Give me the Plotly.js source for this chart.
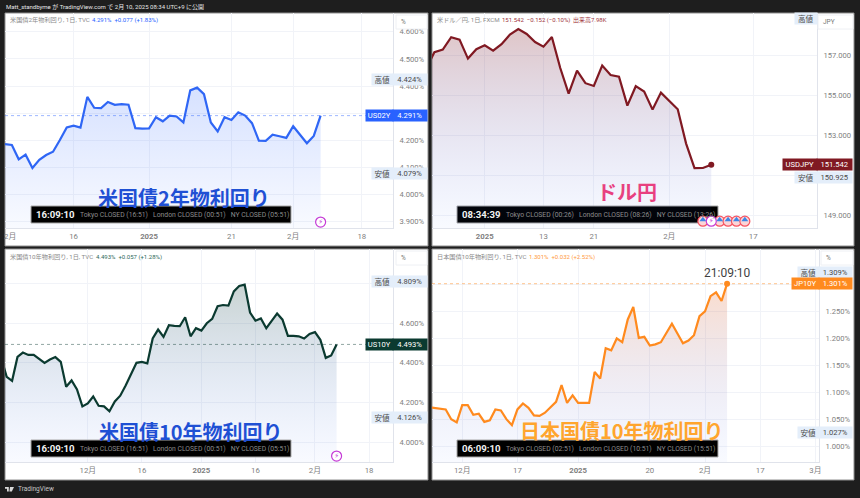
<!DOCTYPE html>
<html><head><meta charset="utf-8">
<script src="https://cdn.plot.ly/plotly-3.0.1.min.js"></script>
<style>html,body{margin:0;padding:0;background:#1e1e1e}#c{width:860px;height:498px}</style>
</head><body><div id="c"></div>
<script>
// ---- data ----
const us2y = [4.186,4.183,4.130,4.147,4.098,4.128,4.146,4.158,4.201,4.247,4.254,4.247,4.360,4.320,4.319,4.341,4.331,4.333,4.331,4.245,4.243,4.244,4.285,4.270,4.291,4.288,4.266,4.384,4.394,4.370,4.266,4.233,4.285,4.275,4.303,4.291,4.263,4.199,4.198,4.221,4.215,4.209,4.252,4.220,4.189,4.216,4.291];
const usdjpy = [156.33,157.17,157.30,157.92,157.80,156.85,157.32,157.52,157.25,157.57,158.05,158.33,158.08,157.68,157.45,157.93,156.38,155.10,156.25,155.62,155.48,156.50,156.03,155.95,154.50,155.47,155.20,154.30,155.15,154.72,154.32,152.60,151.37,151.38,151.542];
const us10y = [4.425,4.329,4.309,4.430,4.452,4.440,4.440,4.420,4.400,4.417,4.429,4.405,4.279,4.311,4.266,4.180,4.195,4.230,4.183,4.180,4.155,4.205,4.234,4.286,4.346,4.400,4.405,4.397,4.523,4.568,4.531,4.590,4.587,4.585,4.630,4.534,4.575,4.563,4.600,4.622,4.686,4.692,4.689,4.761,4.788,4.795,4.654,4.613,4.624,4.575,4.612,4.649,4.618,4.536,4.536,4.534,4.523,4.546,4.555,4.516,4.425,4.437,4.493];
const jp10y = [1.073,1.072,1.070,1.069,1.051,1.045,1.077,1.077,1.059,1.061,1.046,1.049,1.069,1.067,1.051,1.040,1.069,1.080,1.072,1.058,1.057,1.063,1.073,1.083,1.114,1.081,1.095,1.081,1.081,1.081,1.138,1.126,1.182,1.178,1.200,1.193,1.235,1.258,1.201,1.203,1.187,1.189,1.193,1.209,1.227,1.209,1.191,1.196,1.206,1.241,1.250,1.278,1.285,1.269,1.301];

const us2yXTicks = [10,21,33,42,52],  us2yXLabels = ['16','<b>2025</b>','21','2月','18'];
const jpyXTicks  = [7,14,20,29,39],   jpyXLabels  = ['<b>2025</b>','13','21','2月','17'];
const us10yXTicks= [16,26,37,47,58,68], us10yXLabels= ['12月','16','<b>2025</b>','16','2月','18'];
const jp10yXTicks= [6,16,27,40,50,60,70], jp10yXLabels= ['12月','17','<b>2025</b>','20','2月','17','3月'];

const us2yYTicks = [3.9,4.0,4.1,4.2,4.3,4.4,4.5,4.6],  us2yHidden=[4.3];
const jpyYTicks  = [149,151,153,155,157],               jpyHidden=[151];
const us10yYTicks= [4.0,4.2,4.4,4.6,4.8],               us10yHidden=[4.8];
const jp10yYTicks= [1.0,1.05,1.1,1.15,1.2,1.25,1.3],    jp10yHidden=[1.3];

// ---- page geometry in pixels ----
const W=860,H=498, fx=p=>p/W, fy=p=>1-p/H;
const GRID='#f1f3f8', AXIS='#e0e3eb', TICK='#7f7f7f', SANS='Roboto, "Noto Sans CJK JP", sans-serif', CJK='"Noto Sans CJK JP", sans-serif';

const panels=[
 {id:'',  L:5,  R:428, T:13, B:246, axX:393, plotB:228, y:us2y, xr:[0,56.55], yr:[3.877,4.669], color:'#2f66f5', top:'rgba(41,98,255,0.19)', xT:us2yXTicks,xL:us2yXLabels,yT:us2yYTicks,yH:us2yHidden,dec:3,unit:'%',
  head:'米国債2年物利回り, 1日, TVC', headVal:'4.291%  +0.077 (+1.83%)', headCol:'#2962ff', headX:9, valX:91,
  sym:'US02Y', tagCol:'#2962ff', tagL:366, last:4.291, hi:4.424, lo:4.079, tagTxt:v=>v.toFixed(3)+'%', dotted:'rgba(41,98,255,0.45)',
  title:'米国債2年物利回り', titleCol:'#1f50d4', titleX:184, titleY:197, bar:[31,291,206,223], clock:'16:09:10', markets:'Tokyo CLOSED (16:51)   London CLOSED (00:51)   NY CLOSED (05:51)', boxL:396, boxR:427, boxT:15, boxTxt:'%', hiLabelL:372, loLabelL:372},
 {id:'2', L:432,R:854, T:13, B:246, axX:817, plotB:228, y:usdjpy, xr:[0.715,46.6], yr:[148.38,159.13], color:'#801922', top:'rgba(128,25,34,0.25)', xT:jpyXTicks,xL:jpyXLabels,yT:jpyYTicks,yH:jpyHidden,dec:3,unit:'',
  head:'米ドル／円, 1日, FXCM', headVal:'151.542  −0.152 (−0.10%)', headCol:'#a0343c', headX:436, valX:501, extra:'出来高7.98K', extraX:572,
  sym:'USDJPY', tagCol:'#801922', tagL:783, last:151.542, hi:158.83, lo:150.925, tagTxt:v=>v.toFixed(3), hiHide:true,
  title:'ドル円', titleCol:'#e8407f', titleX:627, titleY:191, bar:[457,718,206,223], clock:'08:34:39', markets:'Tokyo CLOSED (00:26)   London CLOSED (08:26)   NY CLOSED (13:26)', boxL:818, boxR:853, boxT:15, boxTxt:'JPY', hiLabelL:795, loLabelL:795, barBelow:true},
 {id:'3', L:5,  R:428, T:249,B:480, axX:393, plotB:462, y:us10y, xr:[0.69,72.43], yr:[3.899,4.975], color:'#0b3a30', top:'rgba(11,58,48,0.22)', xT:us10yXTicks,xL:us10yXLabels,yT:us10yYTicks,yH:us10yHidden,dec:3,unit:'%',
  head:'米国債10年物利回り, 1日, TVC', headVal:'4.493%  +0.057 (+1.28%)', headCol:'#2f6a5c', headX:9, valX:95,
  sym:'US10Y', tagCol:'#0b3a30', tagL:366, last:4.493, hi:4.809, lo:4.126, tagTxt:v=>v.toFixed(3)+'%', dotted:'rgba(11,58,48,0.45)',
  title:'米国債10年物利回り', titleCol:'#1f50d4', titleX:191, titleY:431, bar:[31,291,440,457], clock:'16:09:10', markets:'Tokyo CLOSED (16:51)   London CLOSED (00:51)   NY CLOSED (05:51)', boxL:396, boxR:427, boxT:251, boxTxt:'%', hiLabelL:372, loLabelL:372},
 {id:'4', L:432,R:854, T:249,B:480, axX:819, plotB:462, y:jp10y, xr:[0.517,70.66], yr:[0.972,1.365], color:'#ff8a1e', top:'rgba(240,110,40,0.24)', xT:jp10yXTicks,xL:jp10yXLabels,yT:jp10yYTicks,yH:jp10yHidden,dec:3,unit:'%',
  head:'日本国債10年物利回り, 1日, TVC', headVal:'1.301%  +0.032 (+2.52%)', headCol:'#ff9a3c', headX:436, valX:528,
  sym:'JP10Y', tagCol:'#ff8a1e', tagL:792, last:1.301, hi:1.309, lo:1.027, hiShift:7, tagTxt:v=>v.toFixed(3)+'%', dotted:'rgba(255,138,30,0.5)',
  title:'日本国債10年物利回り', titleCol:'#ffa52e', titleX:622, titleY:430, bar:[457,718,440,457], clock:'06:09:10', markets:'Tokyo CLOSED (02:51)   London CLOSED (10:51)   NY CLOSED (15:51)', boxL:821, boxR:853, boxT:251, boxTxt:'%', hiLabelL:798, loLabelL:798},
];

const traces=[], shapes=[], ann=[], layout={};
const txt=(text,px,py,size,color,extra={})=>ann.push(Object.assign({xref:'paper',yref:'paper',x:fx(px),y:fy(py),text,showarrow:false,xanchor:'left',yanchor:'middle',font:{size,color,family:SANS},borderpad:0},extra));
const rect=(l,r,t,b,fill,line,layer)=>shapes.push({type:'rect',xref:'paper',yref:'paper',x0:fx(l),x1:fx(r),y0:fy(t),y1:fy(b),fillcolor:fill,line:line?{color:line,width:1}:{width:0},layer:layer||'below'});

panels.forEach(p=>{
  const xa='xaxis'+p.id, ya='yaxis'+p.id, xs='x'+p.id, ys='y'+p.id;
  rect(p.L,p.R,p.T,p.B,'#ffffff','#8f8f8f');
  const xs_=p.y.map((_,i)=>i);
  const lastI=p.y.length-1;
  traces.push({type:'scatter',mode:'lines',x:xs_,y:p.y,xaxis:xs,yaxis:ys,line:{color:p.color,width:2.2,shape:'linear'},fill:'tozeroy',
    fillgradient:{type:'vertical',start:Math.max(...p.y),stop:p.yr[0],colorscale:[[0,p.top],[1,'rgba(41,98,255,0.03)']]},hoverinfo:'skip',showlegend:false});
  layout[xa]={domain:[fx(p.L),fx(p.axX)],range:p.xr,anchor:ys,tickmode:'array',tickvals:p.xT,ticktext:p.xL,showgrid:true,gridcolor:GRID,gridwidth:1,zeroline:false,showline:true,linecolor:AXIS,linewidth:1,ticks:'outside',ticklen:1,tickcolor:'rgba(0,0,0,0)',tickfont:{size:7.8,color:TICK,family:SANS},fixedrange:true};
  layout[ya]={domain:[fy(p.plotB),fy(p.T)],range:p.yr,anchor:xs,side:'right',tickmode:'array',tickvals:p.yT,ticktext:p.yT.map(v=>p.yH.includes(v)?' ':v.toFixed(p.dec)+p.unit),showgrid:true,gridcolor:GRID,gridwidth:1,zeroline:false,showline:true,linecolor:AXIS,linewidth:1,ticks:'outside',ticklen:4,tickcolor:'rgba(0,0,0,0)',tickfont:{size:7.6,color:TICK,family:SANS},fixedrange:true};

  // dotted last-price line
  if(p.dotted) shapes.push({type:'line',xref:'paper',yref:ys,x0:fx(p.L),x1:fx(p.tagL),y0:p.y[lastI],y1:p.y[lastI],line:{color:p.dotted,width:1,dash:'dot'},layer:'above'});

  // legend text
  txt(p.head,p.headX,p.T+7.5,6.2,'#8a8a8a');
  txt(p.headVal,p.valX,p.T+7.5,6,p.headCol);
  if(p.extra) txt(p.extra,p.extraX,p.T+7.5,6,'#a0343c');

  // unit box
  rect(p.boxL,p.boxR,p.boxT,p.boxT+14,'#ffffff','#eef0f4','above');
  txt(p.boxTxt,p.boxL+4,p.boxT+7,6.5,'#777');

  // high / low tags
  const tag=(label,val,l,shift,bg,fg,valTxt,hide)=>{
    const mk=(t,a,b,fw)=>ann.push({xref:'paper',yref:ys,x:fx((a+b)/2),y:val,yshift:shift||0,text:t,showarrow:false,xanchor:'center',yanchor:'middle',width:b-a,height:11,bgcolor:bg,font:{size:fw,color:fg,family:SANS},borderpad:0});
    mk(label,l,p.axX-0.5,7.6);
    if(!hide) mk(valTxt,p.axX+0.5,p.R-(p.id==''||p.id=='3'?1:2),7.6);
  };
  tag('高値',p.hi,p.hiLabelL,p.hiShift,'#e4eefa','#4a4a4a',p.tagTxt(p.hi),p.hiHide);
  tag('安値',p.lo,p.loLabelL,0,'#e4eefa','#4a4a4a',p.tagTxt(p.lo));
  tag(p.sym,p.last,p.tagL,0,p.tagCol,'#ffffff',p.tagTxt(p.last));

  // big title
  txt(p.title,p.titleX,p.titleY,20,p.titleCol,{xanchor:'center',font:{size:20,color:p.titleCol,family:CJK,weight:700}});

  // clock bar
  const [bl,br,bt,bb]=p.bar;
  if(p.barBelow){
    const dx=v=>p.xr[0]+(v-p.L)/(p.axX-p.L)*(p.xr[1]-p.xr[0]);
    const dy=v=>p.yr[0]+(p.plotB-v)/(p.plotB-p.T)*(p.yr[1]-p.yr[0]);
    shapes.push({type:'rect',xref:xs,yref:ys,x0:dx(bl),x1:dx(br),y0:dy(bb),y1:dy(bt),fillcolor:'#000000',line:{color:'#a8a8a8',width:1},layer:'between'});
  } else rect(bl,br,bt,bb,'#000000','#a8a8a8','above');
  txt(p.clock,bl+4,(bt+bb)/2,9.6,'#f2f2f2',{font:{size:9.6,color:'#f2f2f2',family:SANS,weight:700}});
  txt(p.markets,bl+48,(bt+bb)/2,6.8,'#8c8c8c');
});

// event markers (index on the time axis, price on the scale)
const flash2x=[46], flash2y=[3.899], flash3x=[62], flash3y=[3.929];
const usdFlagX=[33,35,36,37,38], usdFlashX=[34], usdEventY=[148.72];
const bolt=(x,y,xa,ya)=>traces.push({type:'scatter',mode:'markers+text',x,y,xaxis:xa,yaxis:ya,cliponaxis:false,marker:{size:10,color:'#ffffff',line:{color:'#c53ad6',width:1.2}},text:x.map(()=>'⚡'),textposition:'middle center',textfont:{size:7,color:'#c53ad6',family:'DejaVu Sans'},hoverinfo:'skip',showlegend:false});
traces.push({type:'scatter',mode:'markers',x:usdFlagX,y:usdFlagX.map(()=>usdEventY[0]),xaxis:'x2',yaxis:'y2',cliponaxis:false,marker:{size:10,color:'#fbd5d8',line:{color:'#f7525f',width:1.2}},hoverinfo:'skip',showlegend:false});
traces.push({type:'scatter',mode:'markers',x:usdFlagX,y:usdFlagX.map(()=>usdEventY[0]+0.07),xaxis:'x2',yaxis:'y2',cliponaxis:false,marker:{size:6,symbol:'triangle-up',color:'#3d86e6'},hoverinfo:'skip',showlegend:false});
bolt(usdFlashX,usdFlashX.map(()=>usdEventY[0]),'x2','y2');
bolt(flash2x,flash2y,'x','y');
bolt(flash3x,flash3y,'x3','y3');

// end dots
traces.push({type:'scatter',mode:'markers',x:[usdjpy.length-1],y:[usdjpy[usdjpy.length-1]],xaxis:'x2',yaxis:'y2',marker:{size:6,color:'#801922'},hoverinfo:'skip',showlegend:false});
traces.push({type:'scatter',mode:'markers',x:[jp10y.length-1],y:[jp10y[jp10y.length-1]],xaxis:'x4',yaxis:'y4',marker:{size:6,color:'#ff8a1e'},hoverinfo:'skip',showlegend:false});
ann.push({xref:'x4',yref:'y4',x:jp10y.length-1,y:jp10y[jp10y.length-1],yshift:2,yanchor:'bottom',xanchor:'center',showarrow:false,text:'21:09:10',font:{size:12,color:'#3f3f3f',family:SANS}});

// clipped first month label
txt('2月',3,237,7.8,TICK);

// header and footer
txt('Matt_standbyme が TradingView.com で 2月 10, 2025 08:34 UTC+9 に公開',5,7,6,'#e6e6e6');
const bx=5,by=487;
shapes.push({type:'path',xref:'paper',yref:'paper',path:`M ${fx(bx)} ${fy(by)} L ${fx(bx+3.8)} ${fy(by)} L ${fx(bx+3.8)} ${fy(by+4.6)} L ${fx(bx+2)} ${fy(by+4.6)} L ${fx(bx+2)} ${fy(by+1.8)} L ${fx(bx)} ${fy(by+1.8)} Z M ${fx(bx+5)} ${fy(by)} L ${fx(bx+9)} ${fy(by)} L ${fx(bx+6.8)} ${fy(by+4.6)} L ${fx(bx+4.4)} ${fy(by+4.6)} Z`,fillcolor:'#d8d8d8',line:{width:0},layer:'above'});
txt('TradingView',16.7,489,6.5,'#c8c8c8');

Object.assign(layout,{width:W,height:H,margin:{l:0,r:0,t:0,b:0,pad:0},paper_bgcolor:'#1e1e1e',plot_bgcolor:'rgba(0,0,0,0)',showlegend:false,shapes,annotations:ann,font:{family:SANS}});
Plotly.newPlot('c',traces,layout,{displayModeBar:false,staticPlot:true});
</script></body></html>
